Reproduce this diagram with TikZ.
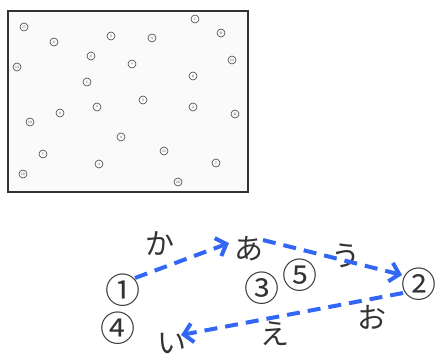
\documentclass[tikz,border=0pt]{standalone}
\usepackage{fontspec}
\newfontfamily\cjk{Noto Sans CJK JP}
\usetikzlibrary{arrows.meta}
\definecolor{arrblue}{HTML}{3366F5}
\definecolor{txtgray}{HTML}{333333}
\tikzset{
  lbl/.style={font=\cjk\fontsize{29}{29}\selectfont, text=txtgray, inner sep=0pt},
  num/.style={font=\cjk\fontsize{35}{35}\selectfont, text=txtgray, inner sep=0pt},
  dot/.style={circle, draw=black!75, line width=0.6pt, minimum size=8pt, inner sep=0pt, font=\sffamily\fontsize{3.5}{3.5}\selectfont, text=black!70},
  flow/.style={draw=arrblue, line width=4pt, dash pattern=on 13pt off 8pt, -{Straight Barb[length=9pt,width=19pt,line width=4pt]}},
}
\begin{document}
\begin{tikzpicture}[x=1pt,y=-1pt]
\useasboundingbox (0,0) rectangle (436,356);
% scanned panel
\node[draw=black!80, line width=1.8pt, fill=black!2, minimum width=240pt, minimum height=181pt, inner sep=0pt] (panel) at (128,101.5) {};
\foreach \x/\y/\t [count=\i] in {24/27/17, 54/42/6, 111/36/5, 152/38/4, 195/19/1, 221/33/8, 232/60/12, 17/67/13, 91/56/9, 132/64/c, 87/82/1, 193/76/8, 143/100/5, 97/107/o, 193/107/2, 235/114/8, 60/113/9, 30/122/14, 121/137/4, 164/151/11, 43/154/c, 216/163/7, 99/164/3, 23/174/10, 178/182/20}
  \node[dot] (d\i) at (\x,\y) {\t};
% labels
\node[num] (c1) at (123,290) {①};
\node[lbl] (ka) at (160,243) {か};
\node[lbl] (a) at (249,249) {あ};
\node[lbl] (u) at (346,256) {う};
\node[num] (c5) at (300,275) {⑤};
\node[num] (c3) at (262,288) {③};
\node[num] (c2) at (419,284) {②};
\node[num] (c4) at (118,328) {④};
\node[lbl] (i) at (172,343) {い};
\node[lbl] (e) at (275,334) {え};
\node[lbl] (o) at (372,317) {お};
% arrow end points
\coordinate (s1) at (135,278);
\coordinate (t1) at (229,243);
\coordinate (s2) at (263,240);
\coordinate (t2) at (402,275);
\coordinate (s3) at (403,293);
\coordinate (t3) at (181,335);
\draw[flow] (s1) -- (t1);
\draw[flow] (s2) -- (t2);
\draw[flow] (s3) -- (t3);
\end{tikzpicture}
\end{document}
